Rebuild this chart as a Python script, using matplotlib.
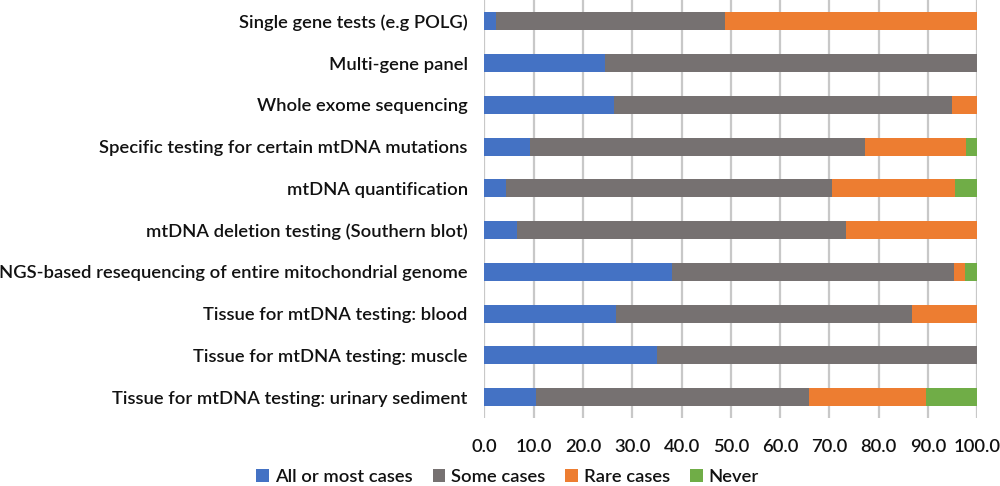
import matplotlib
matplotlib.use("Agg")
import matplotlib.pyplot as plt
import numpy as np

categories = [
    "Single gene tests (e.g POLG)",
    "Multi-gene panel",
    "Whole exome sequencing",
    "Specific testing for certain mtDNA mutations",
    "mtDNA quantification",
    "mtDNA deletion testing (Southern blot)",
    "NGS-based resequencing of entire mitochondrial genome",
    "Tissue for mtDNA testing: blood",
    "Tissue for mtDNA testing: muscle",
    "Tissue for mtDNA testing: urinary sediment",
]
all_or_most = [2.3, 24.5, 26.3, 9.2, 4.5, 6.7, 38.1, 26.7, 35.0, 10.5]
some = [46.5, 75.5, 68.5, 68.1, 66.0, 66.6, 57.1, 60.0, 65.0, 55.3]
rare = [51.2, 0.0, 5.2, 20.4, 25.0, 26.7, 2.4, 13.3, 0.0, 23.7]
never = [0.0, 0.0, 0.0, 2.3, 4.5, 0.0, 2.4, 0.0, 0.0, 10.5]
series_names = ["All or most cases", "Some cases", "Rare cases", "Never"]
colors = ["#4472C4", "#767171", "#ED7D31", "#70AD47"]
xticks = [0, 10, 20, 30, 40, 50, 60, 70, 80, 90, 100]

plt.rcParams['font.family'] = ['Lato', 'DejaVu Sans']
FS = 13.2
FW = 'semibold'

fig = plt.figure(figsize=(10, 4.86), dpi=100)
ax = fig.add_axes([0.4843, 0.140, 0.493, 0.859])

y = np.arange(len(categories))
left = np.zeros(len(categories))
for vals, name, c in zip([all_or_most, some, rare, never], series_names, colors):
    v = np.array(vals)
    ax.barh(y, v, left=left, height=0.43, color=c, label=name, zorder=3)
    left += v

ax.set_ylim(len(categories) - 0.5, -0.5)
ax.set_xlim(0, 100)
ax.set_yticks(y)
ax.set_yticklabels(categories, fontsize=FS, fontweight=FW, color="#111111")
ax.set_xticks(xticks)
ax.set_xticklabels([f"{t:.1f}" for t in xticks], fontsize=FS, fontweight=FW, color="#111111")
ax.tick_params(axis='both', length=0)
ax.tick_params(axis='y', pad=12)
ax.tick_params(axis='x', pad=15)
ax.grid(axis='x', color="#C8C8C8", linewidth=1.6, zorder=0)
for s in ax.spines.values():
    s.set_visible(False)

handles, labels = ax.get_legend_handles_labels()
leg = fig.legend(handles, labels, loc='center', bbox_to_anchor=(0.5075, 0.019), ncol=4,
                 frameon=False, prop={'size': FS, 'weight': FW}, handlelength=0.7,
                 handleheight=0.7, handletextpad=0.3, columnspacing=1.1, borderaxespad=0,
                 borderpad=0)
for t in leg.get_texts():
    t.set_color("#111111")

fig.savefig("out.png", dpi=100)
